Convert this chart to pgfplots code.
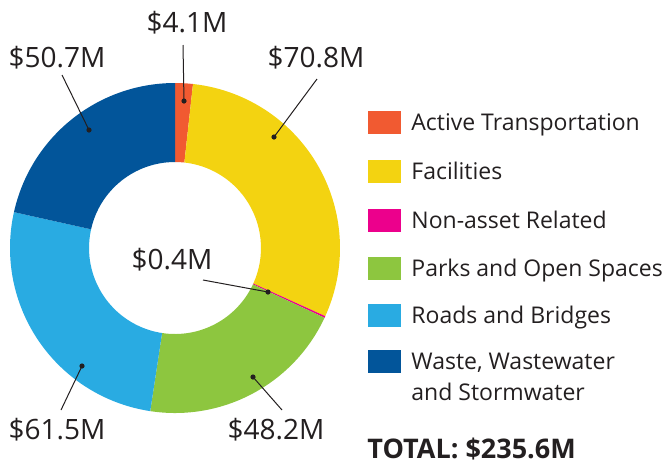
\documentclass[border=0pt]{standalone}
\usepackage{pgfplots}
\usepackage{pgfplotstable}
\pgfplotsset{compat=1.18}
\usepackage{fontspec}
\setmainfont{Open Sans}

\definecolor{txt}{HTML}{231F20}
\definecolor{cActive}{HTML}{F15A31}
\definecolor{cFacil}{HTML}{F3D311}
\definecolor{cNonasset}{HTML}{EC008C}
\definecolor{cParks}{HTML}{8DC63F}
\definecolor{cRoads}{HTML}{29ABE2}
\definecolor{cWaste}{HTML}{02559A}

% capital budget by category, $M (clockwise from 12 o'clock)
\pgfplotstableread{
value color
4.1  cActive
70.8 cFacil
0.4  cNonasset
48.2 cParks
61.5 cRoads
50.7 cWaste
}\budget

\begin{document}
\begin{tikzpicture}
\begin{axis}[
    x=0.5pt, y=0.5pt,
    xmin=0, xmax=662, ymin=0, ymax=463,
    hide axis, clip=false,
    anchor=origin, at={(0,0)},
]
\pgfplotstablegetrowsof{\budget}
\pgfmathtruncatemacro\nrows{\pgfplotsretval-1}
\def\total{0}
\pgfplotsforeachungrouped \i in {0,...,\nrows}{%
  \pgfplotstablegetelem{\i}{value}\of\budget
  \pgfmathsetmacro\total{\total+\pgfplotsretval}%
}
\def\cum{0}
\pgfplotsforeachungrouped \i in {0,...,\nrows}{%
  \pgfplotstablegetelem{\i}{value}\of\budget \let\v\pgfplotsretval
  \pgfplotstablegetelem{\i}{color}\of\budget \let\c\pgfplotsretval
  \pgfmathsetmacro\a{90-\cum/\total*360}%
  \pgfmathsetmacro\cum{\cum+\v}%
  \pgfmathsetmacro\b{90-\cum/\total*360}%
  \pgfmathsetmacro\bb{\b+180}%
  \edef\tmp{\noexpand\fill[\c] (axis cs:175,215) ++(\a:82.5pt)
    arc[start angle=\a, end angle=\b, radius=82.5pt] -- ++(\bb:39.5pt)
    arc[start angle=\b, end angle=\a, radius=43pt] -- cycle;}%
  \tmp
}

% value labels with leader lines
\tikzset{lbl/.style={font=\fontsize{14}{16}\selectfont, text=txt, inner sep=0pt},
         lead/.style={draw=txt, line width=0.5pt}}
\node[lbl] at (axis cs:187,440) {\$4.1M};
\node[lbl] at (axis cs:57,405)  {\$50.7M};
\node[lbl] at (axis cs:316,405) {\$70.8M};
\node[lbl] at (axis cs:172,203) {\$0.4M};
\node[lbl] at (axis cs:57,33)   {\$61.5M};
\node[lbl] at (axis cs:276,33)  {\$48.2M};
\draw[lead] (axis cs:183,418) -- (axis cs:184,362);
\fill[txt] (axis cs:184,362) circle[radius=1.3pt];
\draw[lead] (axis cs:62,388) -- (axis cs:89,333);
\fill[txt] (axis cs:89,333) circle[radius=1.3pt];
\draw[lead] (axis cs:317,384) -- (axis cs:274,326);
\fill[txt] (axis cs:274,326) circle[radius=1.3pt];
\draw[lead] (axis cs:203,183) -- (axis cs:268,171);
\fill[txt] (axis cs:268,171) circle[radius=1.3pt];
\draw[lead] (axis cs:61,53) -- (axis cs:82,97);
\fill[txt] (axis cs:82,97) circle[radius=1.3pt];
\draw[lead] (axis cs:282,53) -- (axis cs:253,86);
\fill[txt] (axis cs:253,86) circle[radius=1.3pt];

% legend
\tikzset{leg/.style={font=\fontsize{11.5}{13}\selectfont, text=txt, inner sep=0pt, anchor=base west}}
\fill[cActive]   (axis cs:368,329.5) rectangle (axis cs:401,352.5);
\fill[cFacil]    (axis cs:368,280.5) rectangle (axis cs:401,303.5);
\fill[cNonasset] (axis cs:368,231.5) rectangle (axis cs:401,254.5);
\fill[cParks]    (axis cs:368,183.5) rectangle (axis cs:401,206.5);
\fill[cRoads]    (axis cs:368,136.5) rectangle (axis cs:401,159.5);
\fill[cWaste]    (axis cs:368,90.5)  rectangle (axis cs:401,113.5);
\node[leg] at (axis cs:411,332.5) {Active Transportation};
\node[leg] at (axis cs:411,283.5) {Facilities};
\node[leg] at (axis cs:411,234.5) {Non-asset Related};
\node[leg] at (axis cs:411,186.5) {Parks and Open Spaces};
\node[leg] at (axis cs:411,139.5) {Roads and Bridges};
\node[leg] at (axis cs:411,93.5)  {Waste, Wastewater};
\node[leg] at (axis cs:411,63)    {and Stormwater};
\node[font=\fontsize{13.5}{15}\selectfont\bfseries, text=txt, inner sep=0pt, anchor=base west]
  at (axis cs:367,5) {TOTAL: \$235.6M};
\end{axis}
\pgfresetboundingbox
\path (0,0) rectangle (331pt,231.5pt);
\end{tikzpicture}
\end{document}
